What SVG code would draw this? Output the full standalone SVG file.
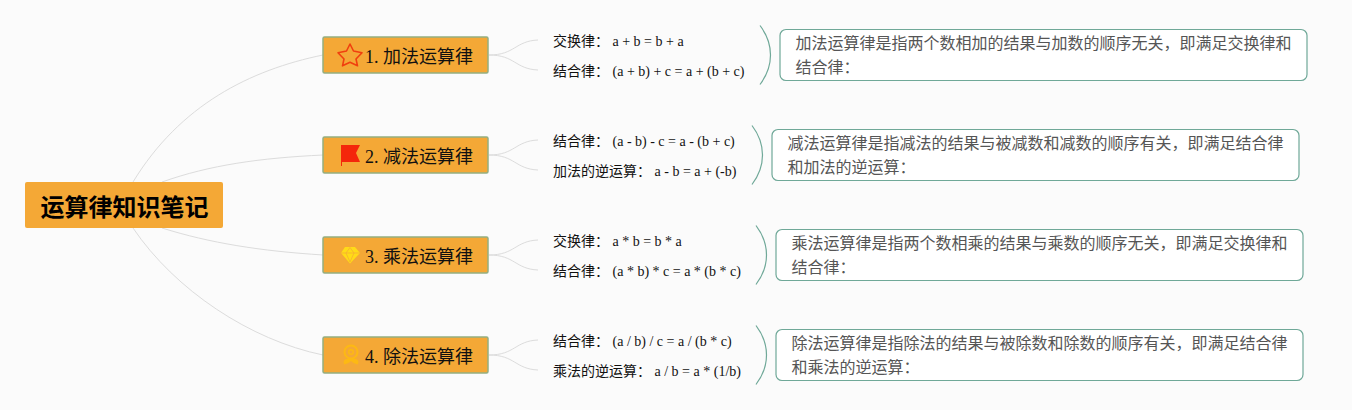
<svg xmlns="http://www.w3.org/2000/svg" width="1352" height="410" viewBox="0 0 1352 410">
<style>
text{font-family:"Liberation Serif","Noto Sans CJK SC",serif;fill:#111}
.root{font-size:24px;font-weight:700;fill:#000;font-family:"Noto Sans CJK SC",sans-serif}
.rootbox{fill:#f4a836}
.topic{fill:#f4a836;stroke:#94ae80;stroke-width:1.5}
.tt{font-size:18px}
.sub{font-size:14px}
.note{font-size:16px;fill:#555}
.notebox{fill:#fff;stroke:#6fa898;stroke-width:1.2}
.brace{fill:none;stroke:#6fa898;stroke-width:1.2}
.link{fill:none;stroke:#dcdcdc;stroke-width:1}
</style>
<rect width="1352" height="410" fill="#fbfbfb"/>
<g id="connectors">
<path class="link" d="M133 182C180 105 250 70 323 55"/>
<path class="link" d="M162 182C210 165 260 158 323 155"/>
<path class="link" d="M162 228C210 243 260 251 323 255"/>
<path class="link" d="M133 228C175 290 250 340 323 355"/>
<path class="link" d="M489 55C515 55 515 41 538 40"/>
<path class="link" d="M489 55C515 55 515 69 538 70"/>
<path class="link" d="M489 155C515 155 515 141 538 140"/>
<path class="link" d="M489 155C515 155 515 169 538 170"/>
<path class="link" d="M489 255C515 255 515 241 538 240"/>
<path class="link" d="M489 255C515 255 515 269 538 270"/>
<path class="link" d="M489 355C515 355 515 341 538 340"/>
<path class="link" d="M489 355C515 355 515 369 538 370"/>
<path class="brace" d="M760 25.500C774 44 774 66 760 84.500"/>
<path class="brace" d="M752 125.500C766 144 766 166 752 184.500"/>
<path class="brace" d="M756 225.500C770 244 770 266 756 284.500"/>
<path class="brace" d="M756 325.500C770 344 770 366 756 384.500"/>
</g>
<g id="root">
<rect class="rootbox" x="25" y="182" width="198" height="46" rx="2"/>
<text class="root" x="40.500" y="216">运算律知识笔记</text>
</g>
<g id="topic1">
<rect class="topic" x="323" y="37" width="165" height="36" rx="1.500"/>
<path d="M350 44L353.500 51L362 52.800L356 59L357.500 65.800L350 62.300L342.500 65.800L344 59L338 52.800L346.500 51Z" fill="none" stroke="#f0400f" stroke-width="1.600" stroke-linejoin="round"/>
<text class="tt" x="365" y="63">1. 加法运算律</text>
</g>
<g id="topic2">
<rect class="topic" x="323" y="137" width="165" height="36" rx="1.500"/>
<path d="M341 145H360L356 153L360 162H342V166H341Z" fill="#f4260b"/>
<text class="tt" x="365" y="163">2. 减法运算律</text>
</g>
<g id="topic3">
<rect class="topic" x="323" y="237" width="165" height="36" rx="1.500"/>
<path d="M345 247H355L360 253L350 263.500L341 253Z" fill="#ffdb17"/>
<path d="M341 253H360M346 253L350 262L354 253L350 247.500L346 253" fill="none" stroke="#f5a937" stroke-width="0.700"/>
<text class="tt" x="365" y="263">3. 乘法运算律</text>
</g>
<g id="topic4">
<rect class="topic" x="323" y="337" width="165" height="36" rx="1.500"/>
<circle cx="351" cy="352" r="6.500" fill="none" stroke="#fdb913" stroke-width="2"/>
<circle cx="351" cy="352" r="2.300" fill="none" stroke="#fdb913" stroke-width="1.500"/>
<path d="M346 359Q342 361 344.500 364.500Q348 364 351 361Q354 364 357.500 364.500Q360 361 356 359" fill="#fdb913"/>
<text class="tt" x="365" y="363">4. 除法运算律</text>
</g>
<g id="formula1a"><text class="sub" x="553" y="46">交换律：</text><text class="sub" x="612.500" y="46">a + b = b + a</text></g>
<g id="formula1b"><text class="sub" x="553" y="76">结合律：</text><text class="sub" x="612.500" y="76">(a + b) + c = a + (b + c)</text></g>
<g id="formula2a"><text class="sub" x="553" y="146">结合律：</text><text class="sub" x="612.500" y="146">(a - b) - c = a - (b + c)</text></g>
<g id="formula2b"><text class="sub" x="553" y="176">加法的逆运算：</text><text class="sub" x="654.500" y="176">a - b = a + (-b)</text></g>
<g id="formula3a"><text class="sub" x="553" y="246">交换律：</text><text class="sub" x="612.500" y="246">a * b = b * a</text></g>
<g id="formula3b"><text class="sub" x="553" y="276">结合律：</text><text class="sub" x="612.500" y="276">(a * b) * c = a * (b * c)</text></g>
<g id="formula4a"><text class="sub" x="553" y="346">结合律：</text><text class="sub" x="612.500" y="346">(a / b) / c = a / (b * c)</text></g>
<g id="formula4b"><text class="sub" x="553" y="376">乘法的逆运算：</text><text class="sub" x="654.500" y="376">a / b = a * (1/b)</text></g>
<g id="note1">
<rect class="notebox" x="780" y="29.500" width="527" height="51" rx="6"/>
<text class="note" x="795.500" y="49">加法运算律是指两个数相加的结果与加数的顺序无关，即满足交换律和</text>
<text class="note" x="795.500" y="73">结合律：</text>
</g>
<g id="note2">
<rect class="notebox" x="772" y="129.500" width="527" height="51" rx="6"/>
<text class="note" x="787.500" y="149">减法运算律是指减法的结果与被减数和减数的顺序有关，即满足结合律</text>
<text class="note" x="787.500" y="173">和加法的逆运算：</text>
</g>
<g id="note3">
<rect class="notebox" x="776" y="229.500" width="527" height="51" rx="6"/>
<text class="note" x="791.500" y="249">乘法运算律是指两个数相乘的结果与乘数的顺序无关，即满足交换律和</text>
<text class="note" x="791.500" y="273">结合律：</text>
</g>
<g id="note4">
<rect class="notebox" x="776" y="329.500" width="527" height="51" rx="6"/>
<text class="note" x="791.500" y="349">除法运算律是指除法的结果与被除数和除数的顺序有关，即满足结合律</text>
<text class="note" x="791.500" y="373">和乘法的逆运算：</text>
</g>
</svg>
